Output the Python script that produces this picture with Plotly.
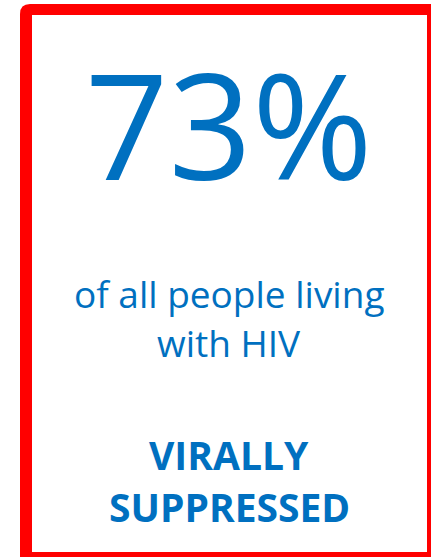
import plotly.graph_objects as go

W, H = 432, 558
BLUE = "#0070C0"
RED = "#FF0000"

big_value = "73%"
desc_lines = ["of all people living", "with HIV"]
status_lines = ["VIRALLY", "SUPPRESSED"]

fig = go.Figure()

# border: outer red path with rounded top-left corner, inner white rect
r = 10
x0, y0, x1, y1 = 20, 4, 431, 557
path = (f"M {x0},{y1} L {x0},{y0+r} Q {x0},{y0} {x0+r},{y0} "
        f"L {x1},{y0} L {x1},{y1} Z")
fig.add_shape(type="path", path=path, xref="x", yref="y",
              fillcolor=RED, line=dict(width=0), layer="below")
fig.add_shape(type="rect", x0=32, y0=15, x1=427, y1=552, xref="x", yref="y",
              fillcolor="white", line=dict(width=0), layer="below")

cx = 229
fig.add_annotation(x=cx, y=123, text=big_value, showarrow=False,
                   xanchor="center", yanchor="middle",
                   font=dict(family="Open Sans", size=146, color=BLUE))
for i, t in enumerate(desc_lines):
    fig.add_annotation(x=cx, y=293 + i * 49, text=t, showarrow=False,
                       xanchor="center", yanchor="middle",
                       font=dict(family="Open Sans", size=37, color=BLUE))
for i, t in enumerate(status_lines):
    fig.add_annotation(x=cx, y=454 + i * 52, text=f"<b>{t}</b>", showarrow=False,
                       xanchor="center", yanchor="middle",
                       font=dict(family="Open Sans", size=39, color=BLUE))

fig.update_layout(width=W, height=H, margin=dict(l=0, r=0, t=0, b=0),
                  paper_bgcolor="white", plot_bgcolor="white", showlegend=False)
fig.update_xaxes(range=[0, W], visible=False, fixedrange=True)
fig.update_yaxes(range=[H, 0], visible=False, fixedrange=True)

fig.write_html("out.html", config={"displayModeBar": False},
               post_script="document.body.style.margin='0';document.body.style.overflow='hidden';")
